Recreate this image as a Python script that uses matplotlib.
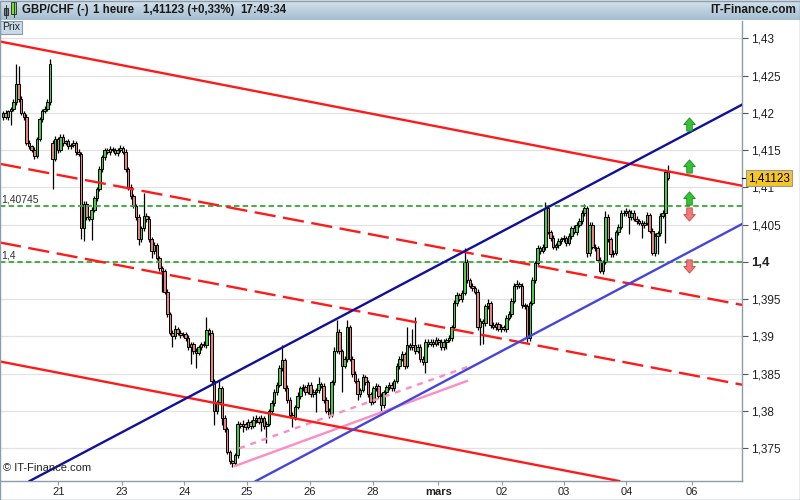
import numpy as np
import matplotlib
matplotlib.use('Agg')
import matplotlib.pyplot as plt
from matplotlib.patches import Rectangle
from matplotlib.path import Path

plt.rcParams['font.family'] = ['Liberation Sans', 'DejaVu Sans']

# ---------------- data ----------------
closes = [
    1.4200, 1.4195, 1.4202, 1.4205, 1.4215, 1.4238, 1.4218, 1.4200, 1.4195, 1.4160,
    1.4155, 1.4150, 1.4142, 1.4165, 1.4192, 1.4203, 1.4205, 1.4215, 1.4266, 1.4138,
    1.4165, 1.4150, 1.4168, 1.4160, 1.4162, 1.4155, 1.4157, 1.4160, 1.4148, 1.4145,
    1.4045, 1.4078, 1.4060, 1.4058, 1.4070, 1.4085, 1.4098, 1.4125, 1.4140, 1.4150,
    1.4148, 1.4152, 1.4150, 1.4146, 1.4150, 1.4153, 1.4148, 1.4125, 1.4100, 1.4088,
    1.4075, 1.4060, 1.4030, 1.4045, 1.4062, 1.4058, 1.4030, 1.4015, 1.4022, 1.4005,
    1.3992, 1.3988, 1.3960, 1.3930, 1.3905, 1.3900, 1.3910, 1.3905, 1.3902, 1.3903,
    1.3898, 1.3885, 1.3890, 1.3880, 1.3878, 1.3885, 1.3890, 1.3888, 1.3908, 1.3905,
    1.3840, 1.3800, 1.3812, 1.3830, 1.3790, 1.3775, 1.3745, 1.3732, 1.3730, 1.3740,
    1.3782, 1.3780, 1.3782, 1.3778, 1.3785, 1.3780, 1.3788, 1.3790, 1.3785, 1.3790,
    1.3780, 1.3782, 1.3800, 1.3810, 1.3825, 1.3835, 1.3858, 1.3868, 1.3830, 1.3815,
    1.3795, 1.3792, 1.3805, 1.3820, 1.3830, 1.3832, 1.3825, 1.3835, 1.3822, 1.3825,
    1.3828, 1.3836, 1.3833, 1.3815, 1.3800, 1.3795, 1.3838, 1.3880, 1.3906, 1.3880,
    1.3860, 1.3870, 1.3912, 1.3870, 1.3850, 1.3840, 1.3822, 1.3828, 1.3845, 1.3838,
    1.3822, 1.3812, 1.3830, 1.3833, 1.3820, 1.3808, 1.3825, 1.3832, 1.3835, 1.3830,
    1.3840, 1.3860, 1.3870, 1.3876, 1.3860, 1.3888, 1.3885, 1.3888, 1.3880, 1.3886,
    1.3870, 1.3865, 1.3893, 1.3890, 1.3893, 1.3890, 1.3895, 1.3892, 1.3885, 1.3893,
    1.3895, 1.3898, 1.3912, 1.3945, 1.3955, 1.3950, 1.3958, 1.4000, 1.3975, 1.3968,
    1.3965, 1.3960, 1.3912, 1.3920, 1.3918, 1.3940, 1.3945, 1.3915, 1.3913, 1.3916,
    1.3910, 1.3912, 1.3910, 1.3925, 1.3930, 1.3948, 1.3968, 1.3970, 1.3968, 1.3942,
    1.3940, 1.3898, 1.3945, 1.3975, 1.3998, 1.4018, 1.4015, 1.4020, 1.4072, 1.4040,
    1.4032, 1.4020, 1.4022, 1.4028, 1.4030, 1.4032, 1.4025, 1.4035, 1.4045, 1.4040,
    1.4050, 1.4055, 1.4065, 1.4072, 1.4012, 1.4050, 1.4020, 1.4018, 1.4003, 1.3988,
    1.4000, 1.4060, 1.4030, 1.4010, 1.4012, 1.4040, 1.4047, 1.4066, 1.4065, 1.4068,
    1.4060, 1.4066, 1.4058, 1.4055, 1.4052, 1.4050, 1.4052, 1.4063, 1.4042, 1.4012,
    1.4035, 1.4038, 1.4062, 1.4065, 1.4120, 1.41123,
]
first_open = 1.4195
gap_opens = {19: 1.4160}

# wick lengths beyond the body, in pips (0.0001)
up_wick = [
    3, 4, 2, 3, 4, 27, 25, 5, 3, 4,
    3, 2, 4, 3, 3, 2, 4, 3, 6, 3,
    4, 3, 4, 3, 2, 3, 3, 4, 2, 3,
    3, 4, 3, 2, 4, 3, 3, 3, 4, 3,
    3, 4, 2, 3, 3, 4, 3, 3, 2, 4,
    3, 3, 4, 3, 30, 4, 3, 3, 4, 3,
    3, 2, 3, 4, 3, 3, 5, 3, 4, 3,
    3, 4, 3, 3, 4, 3, 3, 4, 18, 3,
    4, 3, 3, 11, 3, 4, 3, 3, 2, 3,
    4, 3, 5, 3, 4, 3, 5, 4, 3, 4,
    3, 4, 3, 5, 4, 3, 4, 20, 3, 4,
    3, 4, 3, 5, 3, 4, 3, 4, 3, 4,
    3, 9, 3, 4, 3, 4, 3, 5, 16, 4,
    3, 4, 10, 3, 4, 3, 4, 3, 5, 3,
    4, 3, 3, 4, 3, 4, 3, 3, 4, 3,
    3, 4, 3, 4, 3, 25, 3, 22, 38, 4,
    3, 4, 3, 4, 3, 3, 4, 3, 4, 3,
    3, 4, 3, 4, 5, 3, 4, 18, 4, 3,
    4, 3, 3, 4, 3, 4, 5, 3, 4, 3,
    3, 4, 3, 3, 4, 3, 4, 5, 3, 4,
    3, 4, 3, 4, 3, 4, 3, 4, 8, 4,
    3, 4, 3, 4, 3, 4, 3, 4, 3, 4,
    3, 4, 4, 6, 3, 4, 3, 4, 3, 4,
    3, 8, 4, 3, 4, 3, 4, 4, 3, 4,
    3, 4, 3, 4, 3, 4, 3, 4, 3, 4,
    3, 4, 3, 4, 5, 10,
]
dn_wick = [
    5, 3, 4, 19, 3, 4, 3, 3, 4, 3,
    4, 3, 4, 3, 3, 4, 3, 3, 4, 40,
    3, 4, 3, 4, 3, 3, 4, 3, 4, 3,
    15, 17, 4, 3, 29, 3, 4, 3, 4, 3,
    3, 4, 3, 3, 4, 3, 3, 4, 3, 4,
    3, 4, 8, 4, 3, 4, 3, 10, 4, 3,
    4, 28, 3, 4, 3, 14, 4, 3, 4, 3,
    4, 3, 22, 4, 20, 3, 4, 3, 4, 3,
    4, 19, 4, 3, 9, 4, 3, 4, 5, 3,
    4, 3, 8, 4, 3, 4, 3, 4, 3, 12,
    4, 23, 3, 4, 3, 4, 3, 4, 3, 4,
    3, 14, 4, 3, 4, 3, 4, 3, 4, 3,
    26, 4, 3, 4, 3, 4, 3, 4, 3, 4,
    35, 3, 4, 3, 4, 3, 7, 4, 3, 4,
    3, 4, 3, 4, 3, 9, 4, 3, 4, 3,
    4, 3, 4, 3, 4, 3, 4, 3, 4, 3,
    4, 3, 14, 4, 3, 4, 3, 4, 3, 4,
    10, 3, 4, 3, 4, 3, 4, 3, 4, 3,
    4, 3, 4, 24, 28, 4, 3, 4, 3, 4,
    3, 4, 3, 4, 3, 4, 3, 4, 3, 4,
    3, 5, 4, 3, 4, 3, 4, 3, 4, 3,
    4, 3, 4, 3, 4, 3, 4, 3, 4, 3,
    4, 3, 4, 3, 6, 4, 3, 4, 3, 3,
    4, 3, 4, 3, 4, 3, 4, 3, 4, 3,
    23, 4, 3, 4, 3, 18, 4, 3, 4, 3,
    4, 25, 4, 3, 40, 3,
]

x_tick_pos = [21.2, 45.5, 69.5, 93.4, 117.7, 141.8, 166.9, 191.2, 215.2, 239.1, 264.3]
x_tick_labels = ['21', '23', '24', '25', '26', '28', 'mars', '02', '03', '04', '06']
y_ticks = [1.375, 1.38, 1.385, 1.39, 1.395, 1.40, 1.405, 1.41, 1.415, 1.42, 1.425, 1.43]
y_tick_labels = ['1,375', '1,38', '1,385', '1,39', '1,395', '1,4', '1,405', '1,41',
                 '1,415', '1,42', '1,425', '1,43']

# trend lines: (candle index, price) anchors
red_upper = [(-1.15, 1.42957), (283.0, 1.41024)]
red_mid_upper = [(-1.15, 1.41315), (283.0, 1.39424)]
red_mid_lower = [(-1.15, 1.40259), (283.0, 1.38353)]
red_lower = [(-1.15, 1.38662), (283.0, 1.36742)]
navy_line = [(44.86, 1.37698), (283.2, 1.42105)]
blue_line = [(104.95, 1.37205), (283.2, 1.40503)]
pink_solid = [(88.96, 1.37259), (177.9, 1.38400)]
pink_dashed = [(90.6, 1.37497), (179.1, 1.38601)]

levels = [1.40745, 1.40]
level_labels = ['1,40745', '1,4']

signal_x = 263.0
signals_up = [1.4185, 1.41286, 1.4085]
signals_down = [1.40635, 1.39937]

last_price = 1.41123
last_label = '1,41123'

# ---------------- figure ----------------
W, H = 800, 500
fig = plt.figure(figsize=(8, 5), dpi=100)
fig.patch.set_facecolor('white')

ax_top_px, ax_bot_px, ax_right_px = 21, 481, 742
ax = fig.add_axes([0, (H - ax_bot_px) / H, ax_right_px / W, (ax_bot_px - ax_top_px) / H])
ax.set_xlim(-1.15, 283.4)
ax.set_ylim(1.370577, 1.432322)

# grid
for yv in y_ticks:
    ax.axhline(yv, color='#e2e2e2', lw=0.9, zorder=0)

# candles
n = len(closes)
opens = [first_open] + closes[:-1]
for k, v in gap_opens.items():
    opens[k] = v
idx = np.arange(n)
o = np.array(opens)
c = np.array(closes)
hi = np.maximum(o, c) + np.array(up_wick) * 1e-4
lo = np.minimum(o, c) - np.array(dn_wick) * 1e-4
ax.vlines(idx, lo, hi, color='black', lw=0.9, zorder=3)
bull = c >= o
body_bot = np.minimum(o, c)
body_h = np.maximum(np.abs(c - o), 0.00008)
ax.bar(idx[bull], body_h[bull], bottom=body_bot[bull], width=0.95,
       color='#44cc44', edgecolor='black', linewidth=0.7, zorder=3.2)
ax.bar(idx[~bull], body_h[~bull], bottom=body_bot[~bull], width=0.95,
       color='#e88080', edgecolor='black', linewidth=0.7, zorder=3.2)

# levels
for lv, lab in zip(levels, level_labels):
    ax.axhline(lv, color='#33aa33', lw=1.3, dashes=(3, 1.8), zorder=4)
    ax.text(1.5 / 742, lv + 0.0002, lab, transform=ax.get_yaxis_transform(),
            fontsize=7.5, color='#333333', ha='left', va='bottom', zorder=6)


def full_line(pts, **kw):
    ax.axline(pts[0], pts[1], **kw)


def seg(pts, **kw):
    xs, ys = zip(*pts)
    ax.plot(xs, ys, **kw)


full_line(red_upper, color='#ff1a1a', lw=1.7, zorder=4.5)
full_line(red_lower, color='#ff1a1a', lw=1.7, zorder=4.5)
full_line(red_mid_upper, color='#ff1a1a', lw=1.7, dashes=(9, 3.2), zorder=4.5)
full_line(red_mid_lower, color='#ff1a1a', lw=1.7, dashes=(9, 3.2), zorder=4.5)
full_line(navy_line, color='#10109a', lw=1.7, zorder=4.6)
full_line(blue_line, color='#4545dd', lw=1.7, zorder=4.6)
seg(pink_solid, color='#ff8cc0', lw=1.7, zorder=4.4)
seg(pink_dashed, color='#ff8cc0', lw=1.7, dashes=(2.5, 2.5), zorder=4.4)

# signal arrows
up_verts = [(-0.88, 0), (0, 1), (0.88, 0), (0.42, 0), (0.42, -1), (-0.42, -1), (-0.42, 0), (-0.88, 0)]
codes = [Path.MOVETO] + [Path.LINETO] * 6 + [Path.CLOSEPOLY]
up_path = Path(up_verts, codes)
dn_path = Path([(x, -y) for x, y in up_verts], codes)
ax.plot([signal_x] * len(signals_up), signals_up, linestyle='none', marker=up_path,
        markersize=9.5, markerfacecolor='#33c433', markeredgecolor='#1d8a1d',
        markeredgewidth=0.6, zorder=6, clip_on=False)
ax.plot([signal_x] * len(signals_down), signals_down, linestyle='none', marker=dn_path,
        markersize=9.5, markerfacecolor='#f07878', markeredgecolor='#cc4444',
        markeredgewidth=0.6, zorder=6, clip_on=False)

# axes styling
for s in ['top', 'left']:
    ax.spines[s].set_visible(False)
for s in ['right', 'bottom']:
    ax.spines[s].set_color('#8c9cab')
    ax.spines[s].set_linewidth(1.0)
ax.yaxis.tick_right()
ax.set_yticks(y_ticks)
ax.set_yticklabels(y_tick_labels)
ax.tick_params(axis='y', direction='out', length=4, width=0.8, color='#555555',
               labelsize=8.5, labelcolor='#222222', pad=2.5)
for t in ax.get_yticklabels():
    if t.get_text() == '1,4':
        t.set_fontweight('bold')
        t.set_fontsize(9.5)
ax.set_xticks(x_tick_pos)
ax.set_xticklabels(x_tick_labels)
ax.tick_params(axis='x', direction='out', length=3, width=0.8, color='#8c9cab',
               labelsize=8, labelcolor='#222222', pad=1)
for t in ax.get_xticklabels():
    if t.get_text() == 'mars':
        t.set_fontweight('bold')

# last price box
ax.plot([1.0, 1.008], [last_price, last_price], transform=ax.get_yaxis_transform(),
        color='black', lw=0.8, clip_on=False, zorder=7)
ax.text(1.008, last_price, last_label, transform=ax.get_yaxis_transform(),
        fontsize=8.5, color='black', ha='left', va='center', zorder=8, clip_on=False,
        bbox=dict(boxstyle='square,pad=0.2', fc='#f6c526', ec='#9a9a9a', lw=0.8))

# copyright
ax.text(3 / 742, 0.018, '\u00a9 IT-Finance.com', transform=ax.transAxes, fontsize=8,
        color='#222222', ha='left', va='bottom', zorder=7)

# header bar
hdr = fig.add_axes([0, 1 - 20 / H, 1, 20 / H])
grad = np.linspace(0, 1, 64).reshape(-1, 1)
top_c = np.array([0.84, 0.89, 0.93])
bot_c = np.array([0.64, 0.74, 0.81])
img = top_c[None, None, :] * (1 - grad[:, :, None]) + bot_c[None, None, :] * grad[:, :, None]
hdr.imshow(img, aspect='auto', extent=[0, 1, 0, 1])
hdr.set_xlim(0, 1)
hdr.set_ylim(0, 1)
hdr.axis('off')
hdr.add_patch(Rectangle((4 / W, 0.25), 4 / W, 0.35, fc='#777777', ec='#222222', lw=0.6))
hdr.plot([6 / W, 6 / W], [0.12, 0.75], color='#222222', lw=0.6)
hdr.add_patch(Rectangle((11 / W, 0.3), 5 / W, 0.6, fc='#7cdc3c', ec='#222222', lw=0.6))
hdr.plot([13.5 / W, 13.5 / W], [0.15, 0.95], color='#222222', lw=0.6)
header_items = [(22, 'GBP/CHF (-)'), (93, '1 heure'), (143, '1,41123 (+0,33%)'), (240, '17:49:34')]
for xp, txt in header_items:
    hdr.text(xp / W, 0.48, txt, fontsize=8.3, fontweight='bold', color='#1a1a1a',
             ha='left', va='center')
hdr.text(796 / W, 0.48, 'IT-Finance.com', fontsize=8.5, fontweight='bold', color='#1a1a1a',
         ha='right', va='center')

# "Prix" tab
fig.patches.append(Rectangle((0, 1 - 34 / H), 22 / W, 13 / H, transform=fig.transFigure,
                             fc='#c9dbe8', ec='#8c9cab', lw=0.8, zorder=5))
fig.text(2.5 / W, 1 - 27.5 / H, 'Prix', fontsize=7.5, color='#222222', ha='left', va='center',
         zorder=6)

# outer frame
fig.patches.append(Rectangle((0.0005, 0.001), 0.999, 0.998, transform=fig.transFigure,
                             fill=False, ec='#8c9cab', lw=1.0, zorder=10))

fig.savefig('out.png', dpi=100)
